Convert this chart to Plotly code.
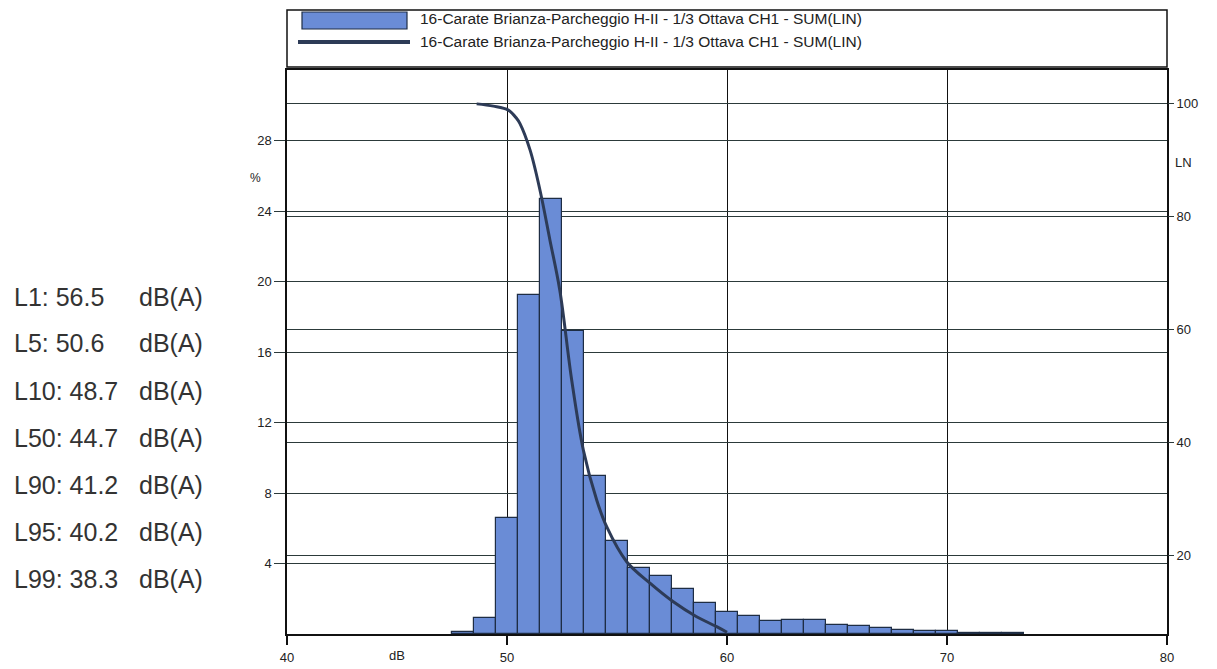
import plotly.graph_objects as go

# ---------------- data ----------------
bar_db = [48, 49, 50, 51, 52, 53, 54, 55, 56, 57, 58, 59, 60, 61, 62, 63, 64,
          65, 66, 67, 68, 69, 70, 71, 72, 73]
bar_pct = [0.1, 0.89, 6.57, 19.22, 24.7, 17.18, 8.98, 5.3, 3.73, 3.31, 2.56,
           1.74, 1.27, 1.04, 0.74, 0.8, 0.8, 0.51, 0.45, 0.32, 0.23, 0.19,
           0.17, 0.06, 0.06, 0.06]

curve_db = [48.62, 49.38, 50.06, 50.44, 50.59, 51.05, 51.5, 51.95, 52.4, 52.94,
            53.47, 54.08, 54.53, 55.44, 56.5, 57.56, 58.6, 59.53, 60.0]
curve_ln = [100.0, 99.6, 98.9, 97.4, 96.5, 91.8, 84.7, 75.9, 67.0, 51.1,
            38.7, 29.8, 25.1, 18.9, 15.1, 11.8, 9.2, 7.4, 6.4]

x_ticks = [40, 50, 60, 70, 80]
y_ticks = [4, 8, 12, 16, 20, 24, 28]
ln_ticks = [20, 40, 60, 80, 100]

stat_labels = ["L1: 56.5", "L5: 50.6", "L10: 48.7", "L50: 44.7",
               "L90: 41.2", "L95: 40.2", "L99: 38.3"]
stat_unit = "dB(A)"

series_name = "16-Carate Brianza-Parcheggio H-II - 1/3 Ottava CH1 - SUM(LIN)"

# ---------------- style ----------------
BAR_FILL = "#6a8cd6"
BAR_EDGE = "#1e2d44"
CURVE = "#2d3b57"
GRID = "#2c3a3a"
FONT = "Liberation Sans, Arial, sans-serif"

W, H = 1217, 669
ML, MR, MT, MB = 287, 50, 70, 35
PW = W - ML - MR
PH = H - MT - MB


def px(xp):
    return (xp - ML) / PW


def py(yp):
    return (H - MB - yp) / PH


fig = go.Figure()
fig.add_trace(go.Bar(
    x=bar_db, y=bar_pct, width=1.0,
    marker=dict(color=BAR_FILL, line=dict(color=BAR_EDGE, width=1.2)),
    name=series_name, showlegend=False, yaxis="y"))
fig.add_trace(go.Scatter(
    x=curve_db, y=curve_ln, mode="lines", line=dict(color=CURVE, width=3, shape="spline"),
    name=series_name, showlegend=False, yaxis="y2", cliponaxis=True))

fig.update_layout(
    width=W, height=H, autosize=False,
    margin=dict(l=ML, r=MR, t=MT, b=MB, autoexpand=False),
    paper_bgcolor="white", plot_bgcolor="white",
    font=dict(family=FONT, size=13, color="#222"),
    bargap=0,
    xaxis=dict(range=[40, 80], tickvals=x_ticks, showgrid=True, gridcolor="#111",
               gridwidth=1.4, ticks="outside", ticklen=9, tickwidth=1.5, tickcolor="#111",
               showline=True, linecolor="#111", linewidth=1.5, mirror=True, zeroline=False,
               ticklabelstandoff=2, automargin=False,
               tickfont=dict(size=13, color="#222")),
    yaxis=dict(range=[0, 32], tickvals=y_ticks, showgrid=True, gridcolor=GRID, gridwidth=1.2,
               ticks="outside", ticklen=11, tickwidth=1.2, tickcolor=GRID,
               showline=True, linecolor="#111", linewidth=1.5, mirror=True, zeroline=False,
               automargin=False,
               tickfont=dict(size=13, color="#222")),
    yaxis2=dict(range=[6.1, 106], tickvals=ln_ticks, overlaying="y", side="right",
                showgrid=True, gridcolor=GRID, gridwidth=1.2,
                ticks="outside", ticklen=6, tickwidth=1.2, tickcolor=GRID,
                showline=False, zeroline=False, automargin=False,
                tickfont=dict(size=13, color="#222")),
    showlegend=False,
)

shapes = []
# legend box
shapes.append(dict(type="rect", xref="paper", yref="paper", x0=0, x1=1,
                   y0=py(67), y1=py(10), line=dict(color="#111", width=1.5),
                   fillcolor="white"))
shapes.append(dict(type="rect", xref="paper", yref="paper", x0=px(302), x1=px(407),
                   y0=py(29), y1=py(12), line=dict(color=BAR_EDGE, width=1.2),
                   fillcolor=BAR_FILL))
shapes.append(dict(type="line", xref="paper", yref="paper", x0=px(298), x1=px(410),
                   y0=py(42), y1=py(42), line=dict(color=CURVE, width=4)))
fig.update_layout(shapes=shapes)

ann = []
ann.append(dict(text=series_name, xref="paper", yref="paper", x=px(418), y=py(19),
                xanchor="left", yanchor="middle", showarrow=False,
                font=dict(size=15.5, color="#222")))
ann.append(dict(text=series_name, xref="paper", yref="paper", x=px(418), y=py(41),
                xanchor="left", yanchor="middle", showarrow=False,
                font=dict(size=15.5, color="#222")))
ann.append(dict(text="%", xref="paper", yref="paper", x=px(255), y=py(178),
                xanchor="center", yanchor="middle", showarrow=False,
                font=dict(size=12, color="#222")))
ann.append(dict(text="LN", xref="paper", yref="paper", x=px(1183), y=py(162),
                xanchor="center", yanchor="middle", showarrow=False,
                font=dict(size=13, color="#222")))
ann.append(dict(text="dB", xref="paper", yref="paper", x=px(397), y=py(656),
                xanchor="center", yanchor="middle", showarrow=False,
                font=dict(size=13, color="#222")))

row_y = [297, 343, 391, 438, 485, 532, 579]
for lab, yy in zip(stat_labels, row_y):
    ann.append(dict(text=lab, xref="paper", yref="paper", x=px(12), y=py(yy),
                    xanchor="left", yanchor="middle", showarrow=False,
                    font=dict(size=25, color="#333")))
    ann.append(dict(text=stat_unit, xref="paper", yref="paper", x=px(205), y=py(yy),
                    xanchor="right", yanchor="middle", showarrow=False,
                    font=dict(size=25, color="#333")))
fig.update_layout(annotations=ann)

fig.write_html("out.html", config={"displayModeBar": False},
               post_script="document.body.style.margin='0';")
